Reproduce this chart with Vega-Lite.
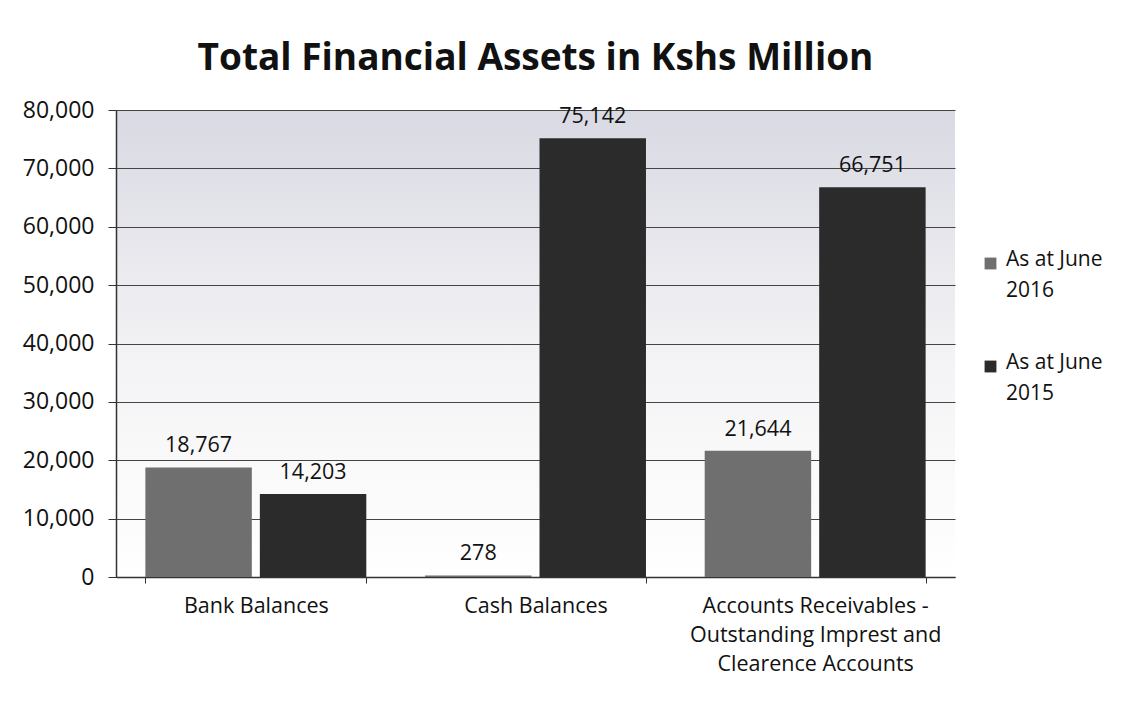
{
  "$schema": "https://vega.github.io/schema/vega-lite/v6.json",
  "width": 839,
  "height": 467,
  "autosize": {"type": "none"},
  "padding": {"left": 116, "top": 110, "right": 185, "bottom": 149},
  "background": "white",
  "title": {
    "text": "Total Financial Assets in Kshs Million",
    "font": "Open Sans",
    "fontSize": 37,
    "fontWeight": "bold",
    "color": "#111111",
    "anchor": "middle",
    "offset": 21
  },
  "config": {
    "font": "Open Sans",
    "view": {
      "stroke": null,
      "fill": {
        "gradient": "linear",
        "x1": 0, "y1": 0, "x2": 0, "y2": 1,
        "stops": [
          {"offset": 0, "color": "#d9d9e3"},
          {"offset": 0.55, "color": "#f4f4f6"},
          {"offset": 1, "color": "#ffffff"}
        ]
      }
    }
  },
  "data": {
    "values": [
      {"category": "Bank Balances", "series": "As at June 2016", "value": 18767, "label": "18,767"},
      {"category": "Bank Balances", "series": "As at June 2015", "value": 14203, "label": "14,203"},
      {"category": "Cash Balances", "series": "As at June 2016", "value": 278, "label": "278"},
      {"category": "Cash Balances", "series": "As at June 2015", "value": 75142, "label": "75,142"},
      {"category": "Accounts Receivables -|Outstanding Imprest and|Clearence Accounts", "series": "As at June 2016", "value": 21644, "label": "21,644"},
      {"category": "Accounts Receivables -|Outstanding Imprest and|Clearence Accounts", "series": "As at June 2015", "value": 66751, "label": "66,751"}
    ]
  },
  "encoding": {
    "x": {
      "field": "category",
      "type": "nominal",
      "sort": null,
      "scale": {"paddingInner": 0.21, "paddingOuter": 0.105},
      "axis": {
        "title": null,
        "labelAngle": 0,
        "labelExpr": "split(datum.label, '|')",
        "labelFontSize": 21.5,
        "labelColor": "#111111",
        "labelPadding": 12,
        "labelLineHeight": 29,
        "labelLimit": 400,
        "tickBand": "extent",
        "tickSize": 6,
        "tickColor": "#333333",
        "domainColor": "#333333",
        "domainWidth": 1.5
      }
    },
    "xOffset": {
      "field": "series",
      "type": "nominal",
      "sort": ["As at June 2016", "As at June 2015"],
      "scale": {"paddingInner": 0.07}
    },
    "y": {
      "field": "value",
      "type": "quantitative",
      "scale": {"domain": [0, 80000]},
      "axis": {
        "title": null,
        "values": [0, 10000, 20000, 30000, 40000, 50000, 60000, 70000, 80000],
        "format": ",.0f",
        "labelFontSize": 23,
        "labelColor": "#111111",
        "labelPadding": 14,
        "tickSize": 8,
        "tickColor": "#333333",
        "domainColor": "#333333",
        "domainWidth": 1.5,
        "gridColor": "#444444",
        "gridWidth": 1.2
      }
    }
  },
  "layer": [
    {
      "mark": {"type": "bar"},
      "encoding": {
        "color": {
          "field": "series",
          "type": "nominal",
          "sort": ["As at June 2016", "As at June 2015"],
          "scale": {"range": ["#6f6f6f", "#2b2b2b"]},
          "legend": {
            "title": null,
            "orient": "none",
            "legendX": 864,
            "legendY": 143,
            "symbolType": "square",
            "symbolSize": 140,
            "labelFontSize": 21,
            "labelColor": "#111111",
            "labelLimit": 300,
            "labelExpr": "['As at June', slice(datum.label, 11)]",
            "labelBaseline": "middle",
            "rowPadding": 50,
            "labelOffset": 5,
            "encode": {
              "labels": {"update": {"lineHeight": {"value": 31}, "baseline": {"value": "top"}, "dy": {"value": -15}}}
            }
          }
        }
      }
    },
    {
      "mark": {"type": "text", "baseline": "bottom", "dy": -10, "fontSize": 21.5, "color": "#111111"},
      "encoding": {
        "text": {"field": "label"}
      }
    }
  ]
}
